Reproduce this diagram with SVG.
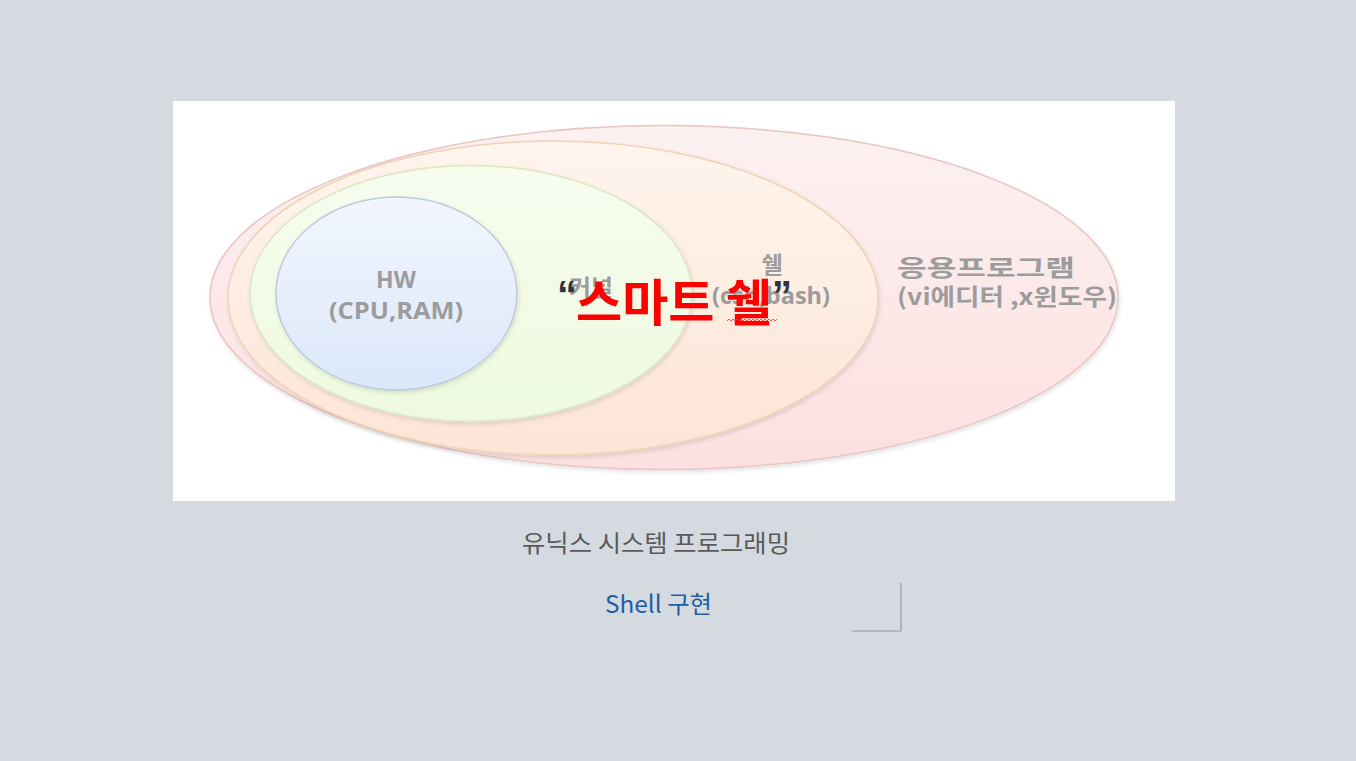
<svg xmlns="http://www.w3.org/2000/svg" width="1356" height="761" viewBox="0 0 1356 761">
  <defs>
    <linearGradient id="gPink" x1="0" y1="0" x2="0" y2="1">
      <stop offset="0" stop-color="#fdf1f1"/>
      <stop offset="1" stop-color="#fde0e0"/>
    </linearGradient>
    <linearGradient id="gOrange" x1="0" y1="0" x2="0" y2="1">
      <stop offset="0" stop-color="#fef5ee"/>
      <stop offset="1" stop-color="#fde5d6"/>
    </linearGradient>
    <linearGradient id="gGreen" x1="0" y1="0" x2="0" y2="1">
      <stop offset="0" stop-color="#f7fcef"/>
      <stop offset="1" stop-color="#eefadf"/>
    </linearGradient>
    <linearGradient id="gBlue" x1="0" y1="0" x2="0" y2="1">
      <stop offset="0" stop-color="#f2f6fd"/>
      <stop offset="1" stop-color="#dbe7fa"/>
    </linearGradient>
    <filter id="shadow" x="-10%" y="-10%" width="120%" height="130%">
      <feDropShadow dx="1" dy="2" stdDeviation="2" flood-color="#000" flood-opacity="0.12"/>
    </filter>
    <style>
      .lbl { font-family: "Noto Sans CJK KR", "Noto Sans", sans-serif; font-weight: bold; font-size: 23px; fill: #9c9c9c; }
      .lat { font-family: "Open Sans", "Noto Sans CJK KR", sans-serif; font-weight: bold; font-size: 23px; fill: #9c9c9c; }
      .quote { font-family: "Liberation Sans", sans-serif; font-weight: bold; font-size: 40px; fill: #2e3540; }
    </style>
  </defs>

  <rect x="0" y="0" width="1356" height="761" fill="#d5dae1"/>
  <rect x="173" y="101" width="1002" height="400" fill="#ffffff"/>

  <g id="app">
    <ellipse cx="664" cy="297.5" rx="454" ry="172" fill="url(#gPink)" stroke="#e8c4c4" stroke-width="1.5" filter="url(#shadow)"/>
  </g>
  <g id="shell">
    <ellipse cx="553" cy="298" rx="325" ry="157" fill="url(#gOrange)" stroke="#f0d2b6" stroke-width="1.5" filter="url(#shadow)"/>
  </g>
  <g id="kernel">
    <ellipse cx="471" cy="293.5" rx="221" ry="128" fill="url(#gGreen)" stroke="#dbe6c4" stroke-width="1.5" filter="url(#shadow)"/>
  </g>
  <g id="hw">
    <ellipse cx="396.5" cy="293.5" rx="120.5" ry="96.5" fill="url(#gBlue)" stroke="#bccadc" stroke-width="1.5" filter="url(#shadow)"/>
    <text class="lat" x="396" y="288" text-anchor="middle">HW</text>
    <text class="lat" x="396" y="319" text-anchor="middle" textLength="134" lengthAdjust="spacingAndGlyphs">(CPU,RAM)</text>
  </g>

  <g id="labels">
    <text class="lbl" x="569" y="296" textLength="44" lengthAdjust="spacingAndGlyphs">커널</text>
    <text class="lbl" x="772" y="273" text-anchor="middle">쉘</text>
    <text class="lat" x="712" y="304" textLength="118" lengthAdjust="spacingAndGlyphs">(csh,bash)</text>
    <text class="lbl" x="897" y="276" textLength="178" lengthAdjust="spacingAndGlyphs">응용프로그램</text>
    <text class="lbl" x="897" y="305" textLength="220" lengthAdjust="spacingAndGlyphs">(vi에디터 ,x윈도우)</text>
  </g>

  <g id="smart-shell">
    <text class="quote" x="557" y="309">“</text>
    <text x="576" y="321" font-family="Noto Sans CJK KR, sans-serif" font-size="50" font-weight="bold" fill="#ff0000" textLength="196" lengthAdjust="spacingAndGlyphs">스마트 쉘</text>
    <text class="quote" x="772" y="309">”</text>
    <path d="M727 321 l2 -2 l2 2 l2 -2 l2 2 l2 -2 l2 2 l2 -2 l2 2 l2 -2 l2 2 l2 -2 l2 2 l2 -2 l2 2 l2 -2 l2 2 l2 -2 l2 2 l2 -2 l2 2 l2 -2 l2 2 l2 -2 l2 2 l2 -2" fill="none" stroke="#ff3030" stroke-width="0.8"/>
  </g>

  <g id="footer">
    <text x="656" y="552" text-anchor="middle" font-family="Noto Sans CJK KR, sans-serif" font-size="24" fill="#5a5a5a" textLength="268" lengthAdjust="spacingAndGlyphs">유닉스 시스템 프로그래밍</text>
    <text x="605" y="613" font-family="Noto Sans CJK KR, sans-serif" font-size="24" fill="#1d5fa6" textLength="107" lengthAdjust="spacingAndGlyphs">Shell 구현</text>
    <path d="M901 583 V631 H852" fill="none" stroke="#9a9a9a" stroke-width="1.2"/>
  </g>
</svg>
